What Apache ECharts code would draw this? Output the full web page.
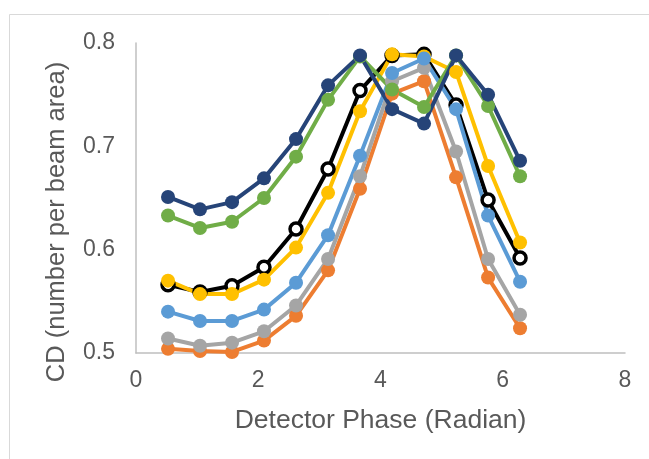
<!DOCTYPE html>
<html>
<head>
<meta charset="utf-8">
<script src="https://cdn.jsdelivr.net/npm/echarts@6/dist/echarts.min.js"></script>
<style>
  html, body { margin: 0; padding: 0; background: #fff; }
  #main { width: 649px; height: 459px; }
</style>
</head>
<body>
<div id="main"></div>
<script>
// detector phase (radian)
var phase = [0.524, 1.047, 1.571, 2.094, 2.618, 3.142, 3.665, 4.189, 4.712, 5.236, 5.760, 6.283];

var blackVals  = [0.566, 0.559, 0.565, 0.583, 0.620, 0.678, 0.754, 0.788, 0.789, 0.740, 0.648, 0.592];
var orangeVals = [0.504, 0.502, 0.501, 0.512, 0.536, 0.580, 0.659, 0.751, 0.763, 0.670, 0.573, 0.524];
var grayVals   = [0.514, 0.507, 0.510, 0.521, 0.546, 0.591, 0.671, 0.763, 0.776, 0.695, 0.591, 0.537];
var yellowVals = [0.570, 0.557, 0.557, 0.571, 0.602, 0.655, 0.734, 0.789, 0.787, 0.772, 0.681, 0.607];
var lblueVals  = [0.540, 0.531, 0.531, 0.542, 0.568, 0.614, 0.691, 0.771, 0.785, 0.736, 0.633, 0.569];
var greenVals  = [0.633, 0.621, 0.627, 0.650, 0.690, 0.745, 0.787, 0.755, 0.738, 0.788, 0.739, 0.671];
var navyVals   = [0.651, 0.639, 0.646, 0.669, 0.707, 0.759, 0.788, 0.736, 0.722, 0.788, 0.750, 0.686];

var xTicks = [0, 2, 4, 6, 8];
var yTicks = [0.5, 0.6, 0.7, 0.8];

function pairs(vals) {
  return phase.map(function (x, i) { return [x, vals[i]]; });
}

function mkSeries(name, vals, color, hollow) {
  return {
    name: name,
    type: 'line',
    data: pairs(vals),
    symbol: 'circle',
    symbolSize: hollow ? 12 : 14,
    lineStyle: { color: color, width: 4 },
    itemStyle: hollow
      ? { color: '#ffffff', borderColor: color, borderWidth: 3.5 }
      : { color: color, borderWidth: 0 },
    emphasis: { disabled: true },
    animation: false,
    z: 2
  };
}

var chart = echarts.init(document.getElementById('main'), null, { renderer: 'canvas' });

chart.setOption({
  backgroundColor: '#ffffff',
  animation: false,
  graphic: [{
    type: 'rect',
    shape: { x: 9.5, y: 14.5, width: 700, height: 500 },
    style: { fill: 'none', stroke: '#d9d9d9', lineWidth: 1 },
    silent: true
  }, {
    // y title sits lower than the axis middle, like the original
    type: 'text',
    x: 57,
    y: 222,
    rotation: Math.PI / 2,
    style: {
      text: 'CD (number per beam area)',
      fill: '#595959',
      font: '25.5px "Liberation Sans"',
      align: 'center',
      verticalAlign: 'middle'
    },
    silent: true
  }],
  grid: { left: 136, right: 24, top: 43, bottom: 106 },
  xAxis: {
    type: 'value',
    min: xTicks[0],
    max: xTicks[xTicks.length - 1],
    interval: 2,
    name: 'Detector Phase (Radian)',
    nameLocation: 'middle',
    nameGap: 54,
    nameTextStyle: { color: '#595959', fontSize: 26.5, fontFamily: 'Liberation Sans' },
    axisLine: { lineStyle: { color: '#bfbfbf', width: 1.5 } },
    axisTick: { show: false },
    splitLine: { show: false },
    axisLabel: { color: '#595959', fontSize: 23, fontFamily: 'Liberation Sans', margin: 16 }
  },
  yAxis: {
    type: 'value',
    min: yTicks[0],
    max: yTicks[yTicks.length - 1],
    interval: 0.1,
    axisLine: { show: true, lineStyle: { color: '#bfbfbf', width: 1.5 } },
    axisTick: { show: false },
    splitLine: { show: false },
    axisLabel: {
      color: '#595959', fontSize: 23, fontFamily: 'Liberation Sans', margin: 21,
      formatter: function (v) { return v.toFixed(1); }
    }
  },
  series: [
    mkSeries('black', blackVals, '#000000', true),
    mkSeries('orange', orangeVals, '#ED7D31'),
    mkSeries('gray', grayVals, '#A5A5A5'),
    mkSeries('yellow', yellowVals, '#FFC000'),
    mkSeries('lightblue', lblueVals, '#5B9BD5'),
    mkSeries('green', greenVals, '#70AD47'),
    mkSeries('navy', navyVals, '#264478')
  ]
});
</script>
</body>
</html>
